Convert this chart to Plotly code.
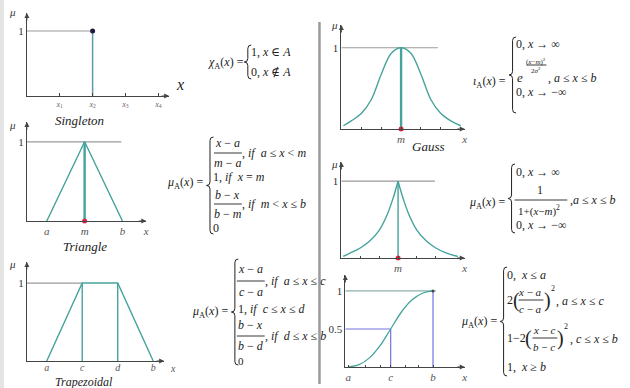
import plotly.graph_objects as go

W, H = 630, 388
SERIF = "'Liberation Serif', 'Times New Roman', 'DejaVu Serif', serif"
AX = "#444444"
TEAL = "#45a39c"
GRAY = "#9a9a9a"
BLUE = "#7272e0"
RED = "#d8283f"

# ---- data ----
single_x = [1, 2, 3, 4]
single_lbl = ["<i>x</i><sub>1</sub>", "<i>x</i><sub>2</sub>", "<i>x</i><sub>3</sub>", "<i>x</i><sub>4</sub>"]
single_at = 2

tri_x = [1, 2, 3]          # a, m, b
tri_mu = [0, 1, 0]
tri_lbl = ["a", "m", "b"]

trap_x = [1, 2, 3, 4]      # a, c, d, b
trap_mu = [0, 1, 1, 0]
trap_lbl = ["a", "c", "d", "b"]

gauss_x = [-2.9, -2.5, -2, -1.5, -1, -0.5, 0, 0.5, 1, 1.5, 2, 2.5, 3.0]
gauss_mu = [0.04, 0.10, 0.19, 0.36, 0.67, 0.93, 1.0, 0.93, 0.67, 0.36, 0.19, 0.10, 0.04]

cauchy_lx = [-2.9, -2.5, -2, -1.5, -1, -0.6, -0.3, 0]
cauchy_lmu = [0.02, 0.07, 0.13, 0.22, 0.36, 0.55, 0.75, 1.0]
cauchy_rx = [0, 0.3, 0.6, 1, 1.5, 2, 2.5, 3.16]
cauchy_rmu = [1.0, 0.75, 0.55, 0.36, 0.22, 0.13, 0.07, 0.02]

s_x = [0, 0.25, 0.5, 0.75, 1, 1.25, 1.5, 1.75, 2]
s_mu = [0, 0.03, 0.12, 0.28, 0.5, 0.72, 0.88, 0.97, 1.0]
s_lbl = ["a", "c", "b"]
s_pos = [0, 1, 2]

fig = go.Figure()
layout = {}


def panel(n, px0, px1, xr, py0, py1, yr, xt, xl, yt, yl, ticklen=0):
    sfx = "" if n == 1 else str(n)
    layout["xaxis" + sfx] = dict(
        domain=[px0 / W, px1 / W], range=xr, anchor="y" + sfx,
        showline=True, linecolor=AX, linewidth=1, showgrid=False, zeroline=False,
        tickvals=xt, ticktext=xl, ticks="inside" if ticklen else "", ticklen=ticklen,
        tickcolor=AX, tickfont=dict(family=SERIF, size=11, color="#555"), fixedrange=True)
    layout["yaxis" + sfx] = dict(
        domain=[1 - py0 / H, 1 - py1 / H], range=yr, anchor="x" + sfx,
        showline=True, linecolor=AX, linewidth=1, showgrid=False, zeroline=False,
        tickvals=yt, ticktext=yl, ticks="",
        tickfont=dict(family=SERIF, size=11, color="#333"), fixedrange=True)
    xa, ya = "x" + sfx, "y" + sfx
    fig.add_annotation(x=xr[1], y=0, xref=xa, yref=ya, ax=-9, ay=0, text="",
                       showarrow=True, arrowhead=2, arrowsize=1, arrowwidth=1, arrowcolor=AX)
    fig.add_annotation(x=xr[0], y=yr[1], xref=xa, yref=ya, ax=0, ay=9, text="",
                       showarrow=True, arrowhead=2, arrowsize=1, arrowwidth=1, arrowcolor=AX)
    return xa, ya


def line(xa, ya, x, y, color, width=1.2, shape="linear"):
    fig.add_trace(go.Scatter(x=x, y=y, xaxis=xa, yaxis=ya, mode="lines",
                             line=dict(color=color, width=width, shape=shape),
                             showlegend=False, hoverinfo="skip"))


def dot(xa, ya, x, y, color, size=6):
    fig.add_trace(go.Scatter(x=[x], y=[y], xaxis=xa, yaxis=ya, mode="markers",
                             marker=dict(color=color, size=size), cliponaxis=False,
                             showlegend=False, hoverinfo="skip"))


# panel 1: singleton
xa, ya = panel(1, 27, 170, [0, 4.33], 96, 13, [0, 1.277], single_x, single_lbl, [1], ["1"], ticklen=3)
layout["xaxis"]["tickfont"] = dict(family=SERIF, size=8, color="#666")
line(xa, ya, [0, single_at], [1, 1], GRAY)
line(xa, ya, [single_at, single_at], [0, 1], "#5b9bb0", 1.5)
dot(xa, ya, single_at, 1, "#1b1b45", 5)

# panel 2: triangle
xa, ya = panel(2, 27, 147, [0.474, 3.63], 221, 122, [0, 1.25],
               tri_x + [3.63], ["<i>%s</i>" % s for s in tri_lbl] + ["<i>x</i>"], [1], ["1"])
line(xa, ya, [0.474, 2.97], [1, 1], GRAY)
line(xa, ya, tri_x, tri_mu, TEAL, 1.4)
line(xa, ya, [tri_x[1], tri_x[1]], [0, 1], TEAL, 2.4)
dot(xa, ya, tri_x[1], 0, RED, 5)

# panel 3: trapezoid
xa, ya = panel(3, 27, 165, [0.44, 4.31], 361, 262, [0, 1.27],
               trap_x, ["<i>%s</i>" % s for s in trap_lbl], [1], ["1"])
layout["xaxis3"]["ticklabelstandoff"] = -3
layout["xaxis3"]["tickfont"] = dict(family=SERIF, size=10, color="#555")
line(xa, ya, [0.44, trap_x[1]], [1, 1], GRAY)
line(xa, ya, trap_x, trap_mu, TEAL, 1.4)
line(xa, ya, [trap_x[1], trap_x[1]], [0, 1], TEAL, 1.4)
line(xa, ya, [trap_x[2], trap_x[2]], [0, 1], TEAL, 1.4)

# panel 4: gauss
xa, ya = panel(4, 343, 467, [-3, 3.2], 129, 25, [0, 1.28],
               [-2, -1, 0, 1, 2, 3.2], ["", "", "<i>m</i>", "", "", "<i>x</i>"], [1], ["1"], ticklen=2)
line(xa, ya, [-3, 1.85], [1, 1], GRAY)
line(xa, ya, gauss_x, gauss_mu, TEAL, 1.4, "spline")
line(xa, ya, [0, 0], [0, 1], TEAL, 2.4)
dot(xa, ya, 0, 0, RED, 5)

# panel 5: cauchy
xa, ya = panel(5, 343, 467, [-3, 3.53], 258, 162, [0, 1.25],
               [-2, -1, 0, 1, 2, 3.53], ["", "", "<i>m</i>", "", "", "<i>x</i>"], [1], ["1"], ticklen=2)
line(xa, ya, [-3, 1.95], [1, 1], GRAY)
line(xa, ya, cauchy_lx, cauchy_lmu, TEAL, 1.4, "spline")
line(xa, ya, cauchy_rx, cauchy_rmu, TEAL, 1.4, "spline")
line(xa, ya, [0, 0], [0, 1], TEAL, 1.4)
dot(xa, ya, 0, 0, RED, 5)

# panel 6: S function
xa, ya = panel(6, 347, 467, [-0.07, 2.75], 367, 275, [0, 1.21],
               s_pos + [0.4, 0.75, 1.35, 1.65, 2.75],
               ["<i>%s</i>" % s for s in s_lbl] + ["", "", "", "", "<i>x</i>"],
               [0.5, 1], ["0.5", "1"], ticklen=2)
line(xa, ya, [-0.07, 2.07], [1, 1], "#8fb0ad")
line(xa, ya, [-0.07, s_pos[1]], [0.5, 0.5], BLUE)
line(xa, ya, [s_pos[1], s_pos[1]], [0, 0.5], BLUE)
line(xa, ya, [s_pos[2], s_pos[2]], [0, 1], BLUE)
line(xa, ya, s_x, s_mu, TEAL, 1.3, "spline")
dot(xa, ya, s_pos[2], 1, "#444", 3)


# ---- text, braces, fraction bars (pixel positions) ----
def px(x):
    return x / W


def py(y):
    return 1 - y / H


def txt(x, y, s, size=12, xa="left", color="#222", family=SERIF):
    fig.add_annotation(x=px(x), y=py(y), xref="paper", yref="paper", text=s,
                       showarrow=False, xanchor=xa, yanchor="middle", borderpad=0,
                       font=dict(size=size, family=family, color=color))


def bar(x0, x1, y):
    fig.add_shape(type="line", xref="paper", yref="paper", x0=px(x0), x1=px(x1),
                  y0=py(y), y1=py(y), line=dict(color="#222", width=0.9))


def brace(x, y0, y1):
    ym = (y0 + y1) / 2
    r = 3.5
    pts = [
        "M %f,%f" % (px(x + r), py(y0)),
        "Q %f,%f %f,%f" % (px(x), py(y0), px(x), py(y0 + r)),
        "L %f,%f" % (px(x), py(ym - r)),
        "Q %f,%f %f,%f" % (px(x), py(ym), px(x - r), py(ym)),
        "Q %f,%f %f,%f" % (px(x), py(ym), px(x), py(ym + r)),
        "L %f,%f" % (px(x), py(y1 - r)),
        "Q %f,%f %f,%f" % (px(x), py(y1), px(x + r), py(y1)),
    ]
    fig.add_shape(type="path", xref="paper", yref="paper", path=" ".join(pts),
                  line=dict(color="#222", width=1))


I = lambda s: "<i>%s</i>" % s
muA = "<i>μ</i><sub>A</sub>(<i>x</i>) ="

# divider and left edge
fig.add_shape(type="rect", xref="paper", yref="paper", x0=0, x1=px(4), y0=0, y1=1,
              fillcolor="#e4e4e4", line=dict(width=0), layer="below")
fig.add_shape(type="line", xref="paper", yref="paper", x0=px(321), x1=px(321),
              y0=py(22), y1=py(384), line=dict(color="#9a9a9a", width=2.5))

# axis / panel labels
for (x, y) in [(13, 12), (13, 125), (13, 264), (336, 25), (336, 164)]:
    txt(x, y, I("μ"), 11, "center", "#333")
txt(181, 84, I("x"), 16, "center", "#222")
txt(80, 120, I("Singleton"), 13, "center")
txt(85, 246, I("Triangle"), 13, "center")
txt(84, 381.5, I("Trapezoidal"), 12, "center")
txt(431, 146, I("Gauss"), 13, "center")
txt(174, 368, I("x"), 10, "center", "#555")

# formula 1
txt(246, 63, "<i>χ</i><sub>A</sub>(<i>x</i>) =", 12, "right")
brace(249, 45, 79)
txt(251, 52, "1, " + I("x") + " ∈ " + I("A"))
txt(251, 72, "0, " + I("x") + " ∉ " + I("A"))

# formula 2 (triangle)
txt(205, 183, muA, 12, "right")
brace(211, 137, 234)
txt(229, 143, I("x") + " − " + I("a"), 12, "center")
bar(215, 243, 153)
txt(229, 163, I("m") + " − " + I("a"), 12, "center")
txt(242, 153, ", " + I("if  a") + " ≤ " + I("x") + " &lt; " + I("m"))
txt(213, 177, "1, " + I("if  x") + " = " + I("m"))
txt(229, 195, I("b") + " − " + I("x"), 12, "center")
bar(215, 243, 204)
txt(229, 214, I("b") + " − " + I("m"), 12, "center")
txt(242, 204, ", " + I("if  m") + " &lt; " + I("x") + " ≤ " + I("b"))
txt(213, 228, "0")

# formula 3 (trapezoid)
txt(230, 312, muA, 12, "right")
brace(236, 259, 365)
txt(252, 269, I("x") + " − " + I("a"), 12, "center")
bar(238, 266, 281)
txt(252, 292, I("c") + " − " + I("a"), 12, "center")
txt(265, 281, ", " + I("if  a") + " ≤ " + I("x") + " ≤ " + I("c"))
txt(238, 309, "1, " + I("if  c") + " ≤ " + I("x") + " ≤ " + I("d"))
txt(252, 325, I("b") + " − " + I("x"), 12, "center")
bar(238, 266, 336)
txt(252, 346, I("b") + " − " + I("d"), 12, "center")
txt(265, 336, ", " + I("if  d") + " ≤ " + I("x") + " ≤ " + I("b"))
txt(238, 361, "0", 11)

# formula 4 (gauss)
txt(509, 82, "<i>ι</i><sub>A</sub>(<i>x</i>) =", 12, "right")
brace(515, 37, 113)
txt(517, 44, "0, " + I("x") + " → ∞")
txt(518, 78, I("e"), 13)
txt(539, 61, "(" + I("x") + "−" + I("m") + ")<sup>2</sup>", 7, "center")
bar(529, 549, 65)
txt(539, 70, "2" + I("σ") + "<sup>2</sup>", 7, "center")
txt(550, 78, ", " + I("a") + " ≤ " + I("x") + " ≤ " + I("b"))
txt(517, 92, "0, " + I("x") + " → −∞")

# formula 5 (cauchy)
txt(508, 203, muA, 12, "right")
brace(514, 164, 233)
txt(517, 172, "0, " + I("x") + " → ∞")
txt(543, 190, "1", 12, "center")
bar(517, 570, 200)
txt(542, 211, "1+(" + I("x") + "−" + I("m") + ")<sup>2</sup>", 11, "center")
txt(572, 200, "," + I("a") + " ≤ " + I("x") + " ≤ " + I("b"))
txt(517, 225, "0, " + I("x") + " → −∞")

# formula 6 (S function)
txt(500, 322, muA, 12, "right")
brace(506, 267, 376)
txt(508, 275, "0,  " + I("x") + " ≤ " + I("a"))
txt(508, 300, "2", 12)
txt(514, 300, "(", 20)
txt(533, 292, I("x") + " − " + I("a"), 11, "center")
bar(521, 546, 300)
txt(533, 309, I("c") + " − " + I("a"), 11, "center")
txt(546, 300, ")", 20)
txt(553, 288, "2", 8)
txt(558, 301, ", " + I("a") + " ≤ " + I("x") + " ≤ " + I("c"))
txt(508, 338, "1−2", 12)
txt(527, 338, "(", 20)
txt(547, 330, I("x") + " − " + I("c"), 11, "center")
bar(535, 560, 338)
txt(547, 347, I("b") + " − " + I("c"), 11, "center")
txt(559, 338, ")", 20)
txt(566, 326, "2", 8)
txt(572, 339, ", " + I("c") + " ≤ " + I("x") + " ≤ " + I("b"))
txt(508, 367, "1,  " + I("x") + " ≥ " + I("b"))

fig.update_layout(width=W, height=H, margin=dict(l=0, r=0, t=0, b=0),
                  paper_bgcolor="white", plot_bgcolor="rgba(0,0,0,0)",
                  showlegend=False, **layout)
# the page body has a default 8px margin; drop it so the figure sits at the window's corner
fig.write_html("out.html", config={"displayModeBar": False},
               post_script="document.body.style.margin='0';")
